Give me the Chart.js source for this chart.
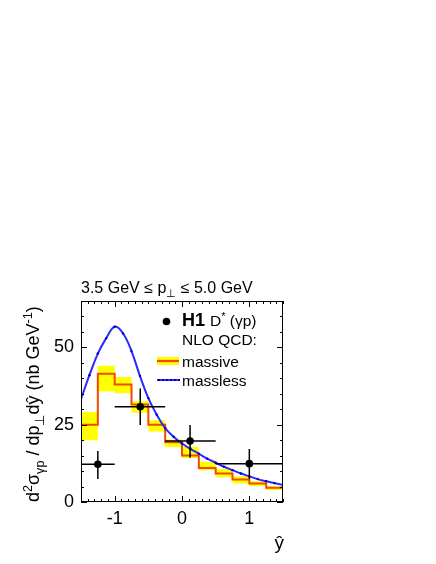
<!DOCTYPE html>
<html>
<head>
<meta charset="utf-8">
<script src="https://cdn.jsdelivr.net/npm/chart.js@4/dist/chart.umd.min.js"></script>
<style>
  html, body { margin: 0; padding: 0; background: #fff; }
  #c { display: block; }
</style>
</head>
<body>
<canvas id="c" width="436" height="564"></canvas>
<script>
// bin edges of the NLO histograms (y-hat)
const binEdges = [-1.5, -1.25, -1.0, -0.75, -0.5, -0.25, 0, 0.25, 0.5, 0.75, 1.0, 1.25, 1.5];
// massive NLO: central value and uncertainty band per bin
const massive = [25.0, 41.5, 38.0, 31.5, 25.0, 19.3, 15.0, 11.0, 9.2, 7.3, 6.0, 4.6];
const massiveLow = [20.0, 35.8, 35.2, 28.9, 22.8, 17.8, 14.2, 10.3, 8.0, 6.0, 5.1, 3.9];
const massiveHigh = [29.1, 44.1, 40.4, 32.6, 26.4, 20.2, 17.9, 13.0, 10.7, 8.3, 6.7, 5.1];

// massless NLO curve
const masslessX = [-1.5, -1.375, -1.25, -1.125, -1.0, -0.875, -0.75, -0.625, -0.5, -0.375, -0.25, -0.125,
  0, 0.125, 0.25, 0.375, 0.5, 0.625, 0.75, 0.875, 1.0, 1.125, 1.25, 1.375, 1.5];
const masslessY = [33.3, 41.0, 48.0, 53.0, 56.7, 54.5, 48.8, 40.8, 33.6, 28.2, 23.9, 21.1,
  18.9, 17.2, 15.6, 14.0, 12.7, 11.4, 10.3, 9.2, 8.3, 7.4, 6.7, 6.1, 5.5];

// H1 data points with error bars
const h1X = [-1.25, -0.62, 0.12, 1.0];
const h1Y = [12.2, 30.8, 19.7, 12.4];
const h1XLow = [-1.5, -1.0, -0.25, 0.5];
const h1XHigh = [-1.0, -0.25, 0.5, 1.5];
const h1YLow = [7.4, 24.9, 14.3, 7.4];
const h1YHigh = [16.5, 36.7, 24.9, 17.1];

const xTicks = [-1, 0, 1];
const yTicks = [0, 25, 50];

const FONT = '"Liberation Sans", Arial, Helvetica, sans-serif';

// histogram points for stepped lines: value holds until next edge
function steps(vals) {
  const pts = vals.map((v, i) => ({ x: binEdges[i], y: v }));
  pts.push({ x: binEdges[binEdges.length - 1], y: vals[vals.length - 1] });
  return pts;
}

function drawRich(ctx, parts, x, y, size) {
  let cx = x;
  for (const [t, k] of parts) {
    const small = k === 'sup' || k === 'sub';
    const fs = small ? size * 0.7 : size;
    ctx.font = (k === 'bold' ? 'bold ' : '') + fs + 'px ' + FONT;
    const dy = k === 'sup' ? -size * 0.4 : k === 'sub' ? size * 0.28 : 0;
    ctx.fillText(t, cx, y + dy);
    cx += ctx.measureText(t).width;
  }
  return cx;
}

const framePlugin = {
  id: 'frame',
  afterDatasetsDraw(chart) {
    const ctx = chart.ctx;
    const xs = chart.scales.x, ys = chart.scales.y;

    // error bars
    ctx.save();
    ctx.strokeStyle = '#000';
    ctx.lineWidth = 1.5;
    ctx.beginPath();
    for (let i = 0; i < h1X.length; i++) {
      const px = xs.getPixelForValue(h1X[i]);
      const py = ys.getPixelForValue(h1Y[i]);
      ctx.moveTo(xs.getPixelForValue(h1XLow[i]), py);
      ctx.lineTo(xs.getPixelForValue(h1XHigh[i]), py);
      ctx.moveTo(px, ys.getPixelForValue(h1YLow[i]));
      ctx.lineTo(px, ys.getPixelForValue(h1YHigh[i]));
    }
    ctx.stroke();
    ctx.restore();
  },
  afterDraw(chart) {
    const ctx = chart.ctx;
    const xs = chart.scales.x, ys = chart.scales.y;
    const a = chart.chartArea;
    ctx.save();
    ctx.strokeStyle = '#000';
    ctx.lineWidth = 1;
    // frame
    ctx.strokeRect(Math.round(a.left) + 0.5, Math.round(a.top) + 0.5,
      Math.round(a.right - a.left) - 1, Math.round(a.bottom - a.top) - 1);
    // ticks (inside, on all four sides)
    ctx.beginPath();
    for (let k = -15; k <= 15; k++) {
      const v = k / 10;
      const len = (k % 10 === 0) ? 6 : 3;
      const px = Math.round(xs.getPixelForValue(v)) + 0.5;
      ctx.moveTo(px, a.bottom); ctx.lineTo(px, a.bottom - len);
      ctx.moveTo(px, a.top); ctx.lineTo(px, a.top + len);
    }
    for (let v = 0; v <= 65; v += 5) {
      const len = (v % 25 === 0) ? 6 : 3;
      const py = Math.round(ys.getPixelForValue(v)) + 0.5;
      ctx.moveTo(a.left, py); ctx.lineTo(a.left + len, py);
      ctx.moveTo(a.right, py); ctx.lineTo(a.right - len, py);
    }
    ctx.stroke();

    // title
    ctx.fillStyle = '#000';
    ctx.textBaseline = 'alphabetic';
    ctx.textAlign = 'left';
    drawRich(ctx, [['3.5 GeV \u2264 p', ''], ['\u22a5', 'sub'], [' \u2264 5.0 GeV', '']], 81, 293, 16);

    // y axis title (rotated)
    ctx.save();
    ctx.translate(39, 502);
    ctx.rotate(-Math.PI / 2);
    drawRich(ctx, [['d', ''], ['2', 'sup'], ['\u03c3', ''], ['\u03b3p', 'sub'], [' / dp', ''], ['\u22a5', 'sub'],
      ['d\u0177 (nb GeV', ''], ['-1', 'sup'], [')', '']], 0, 0, 18);
    ctx.restore();

    // x axis title
    ctx.font = '19px ' + FONT;
    ctx.textAlign = 'right';
    ctx.fillText('\u0177', 284, 549);
    ctx.textAlign = 'left';

    // legend
    ctx.beginPath();
    ctx.arc(166.5, 321.5, 3.8, 0, Math.PI * 2);
    ctx.fill();
    drawRich(ctx, [['H1', 'bold']], 182, 326, 18);
    drawRich(ctx, [['D', ''], ['*', 'sup'], [' (\u03b3p)', '']], 210, 326, 15.5);
    drawRich(ctx, [['NLO QCD:', '']], 182, 345, 15.5);
    ctx.fillStyle = '#ffff00';
    ctx.fillRect(157, 357, 22, 8);
    ctx.strokeStyle = '#f24a00';
    ctx.lineWidth = 2.2;
    ctx.beginPath();
    ctx.moveTo(157, 361); ctx.lineTo(179, 361);
    ctx.stroke();
    ctx.strokeStyle = '#2a2aff';
    ctx.lineWidth = 2;
    ctx.beginPath();
    ctx.moveTo(157, 380); ctx.lineTo(179, 380);
    ctx.stroke();
    ctx.fillStyle = '#0000cc';
    for (let px = 158; px <= 178; px += 4) ctx.fillRect(px, 379, 2, 2);
    ctx.fillStyle = '#000';
    drawRich(ctx, [['massive', '']], 182, 366.5, 15.5);
    drawRich(ctx, [['massless', '']], 182, 386, 15.5);
    ctx.restore();
  }
};

const tickFont = { family: FONT, size: 18 };

new Chart(document.getElementById('c'), {
  type: 'line',
  data: {
    datasets: [
      {
        label: 'H1',
        data: h1X.map((x, i) => ({ x: x, y: h1Y[i] })),
        showLine: false,
        pointRadius: 3.8,
        pointBackgroundColor: '#000',
        pointBorderWidth: 0,
        order: 0
      },
      {
        label: 'massless',
        data: masslessX.map((x, i) => ({ x: x, y: masslessY[i] })),
        borderColor: '#2a2aff',
        borderWidth: 2,
        tension: 0.4,
        pointRadius: 1.2,
        pointBackgroundColor: '#0000cc',
        pointBorderWidth: 0,
        fill: false,
        order: 1
      },
      {
        label: 'massive',
        data: steps(massive),
        stepped: 'before',
        borderColor: '#f24a00',
        borderWidth: 2,
        pointRadius: 0,
        fill: false,
        order: 2
      },
      {
        label: 'band high',
        data: steps(massiveHigh),
        stepped: 'before',
        borderWidth: 0,
        borderColor: 'rgba(0,0,0,0)',
        pointRadius: 0,
        fill: false,
        order: 3
      },
      {
        label: 'band low',
        data: steps(massiveLow),
        stepped: 'before',
        borderWidth: 0,
        borderColor: 'rgba(0,0,0,0)',
        backgroundColor: '#ffff00',
        pointRadius: 0,
        fill: '-1',
        order: 4
      }
    ]
  },
  options: {
    responsive: false,
    animation: false,
    events: [],
    layout: { padding: { left: 0, top: 301, right: 153, bottom: 0 } },
    scales: {
      x: {
        type: 'linear',
        min: -1.5,
        max: 1.5,
        afterBuildTicks: s => { s.ticks = xTicks.map(v => ({ value: v })); },
        afterFit: s => { s.height = 62; },
        grid: { display: false, drawTicks: false, tickLength: 0 },
        border: { display: false },
        ticks: { font: tickFont, color: '#000', padding: 6, maxRotation: 0 }
      },
      y: {
        type: 'linear',
        min: 0,
        max: 65,
        afterBuildTicks: s => { s.ticks = yTicks.map(v => ({ value: v })); },
        afterFit: s => { s.width = 81; },
        grid: { display: false, drawTicks: false, tickLength: 0 },
        border: { display: false },
        ticks: { font: tickFont, color: '#000', padding: 7 }
      }
    },
    plugins: {
      legend: { display: false },
      tooltip: { enabled: false },
      filler: { propagate: false }
    }
  },
  plugins: [framePlugin]
});
</script>
</body>
</html>
